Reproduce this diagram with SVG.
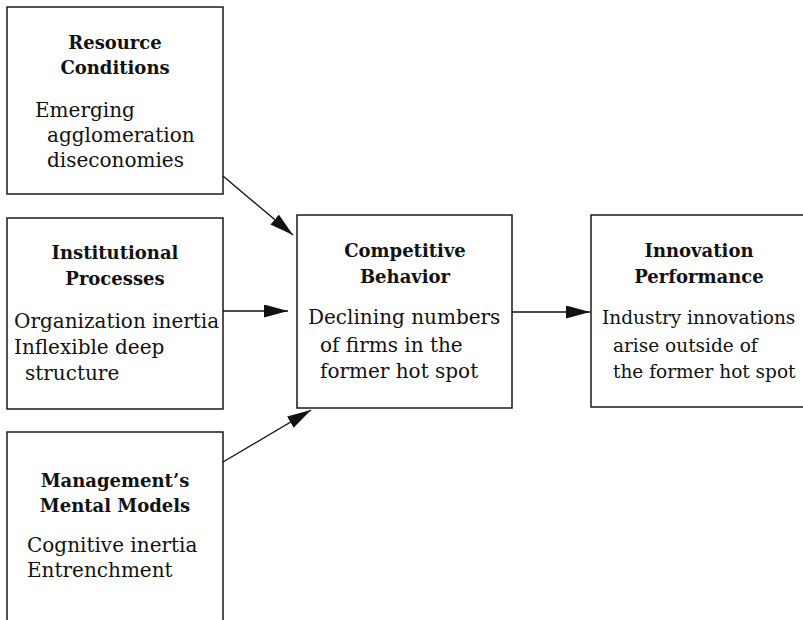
<svg xmlns="http://www.w3.org/2000/svg" width="803" height="620" viewBox="0 0 803 620">
<style>
.box{fill:#fff;stroke:#1a1a1a;stroke-width:1.5}
.t{font-family:"DejaVu Serif",serif;font-weight:bold;font-size:18px;fill:#111;text-anchor:middle}
.b{font-family:"DejaVu Serif",serif;font-size:20px;fill:#111}
.s{font-size:18.5px}
.c{stroke:#111;stroke-width:1.3;fill:none;marker-end:url(#ah)}
</style>
<defs>
<marker id="ah" markerUnits="userSpaceOnUse" markerWidth="24" markerHeight="13" refX="24" refY="6.5" orient="auto">
<path d="M0,0 L24,6.5 L0,13 z" fill="#111"/>
</marker>
</defs>
<rect width="803" height="620" fill="#fff"/>
<g id="resource">
<rect class="box" x="7" y="7" width="216" height="187"/>
<text class="t" x="115" y="49">Resource</text>
<text class="t" x="115" y="74">Conditions</text>
<text class="b" x="35" y="117">Emerging</text>
<text class="b" x="47" y="142">agglomeration</text>
<text class="b" x="47" y="167">diseconomies</text>
</g>
<g id="institutional">
<rect class="box" x="7" y="218" width="216" height="191"/>
<text class="t" x="115" y="259">Institutional</text>
<text class="t" x="115" y="285">Processes</text>
<text class="b" x="14" y="328">Organization inertia</text>
<text class="b" x="14" y="354">Inflexible deep</text>
<text class="b" x="25" y="380">structure</text>
</g>
<g id="management">
<rect class="box" x="7" y="432" width="216" height="200"/>
<text class="t" x="115" y="487">Management’s</text>
<text class="t" x="115" y="512">Mental Models</text>
<text class="b" x="27" y="552">Cognitive inertia</text>
<text class="b" x="27" y="577">Entrenchment</text>
</g>
<g id="competitive">
<rect class="box" x="297" y="215" width="215" height="193"/>
<text class="t" x="405" y="257">Competitive</text>
<text class="t" x="405" y="283">Behavior</text>
<text class="b" x="308" y="324">Declining numbers</text>
<text class="b" x="320" y="352">of firms in the</text>
<text class="b" x="320" y="378">former hot spot</text>
</g>
<g id="innovation">
<rect class="box" x="591" y="215" width="220" height="192"/>
<text class="t" x="699" y="257">Innovation</text>
<text class="t" x="699" y="283">Performance</text>
<text class="b s" x="602" y="324">Industry innovations</text>
<text class="b s" x="613" y="352">arise outside of</text>
<text class="b s" x="613" y="378">the former hot spot</text>
</g>
<g id="connectors">
<line class="c" x1="223" y1="176" x2="293" y2="235"/>
<line class="c" x1="223" y1="311" x2="288" y2="311"/>
<line class="c" x1="223" y1="462" x2="311" y2="410"/>
<line class="c" x1="512" y1="312" x2="590" y2="312"/>
</g>
</svg>
